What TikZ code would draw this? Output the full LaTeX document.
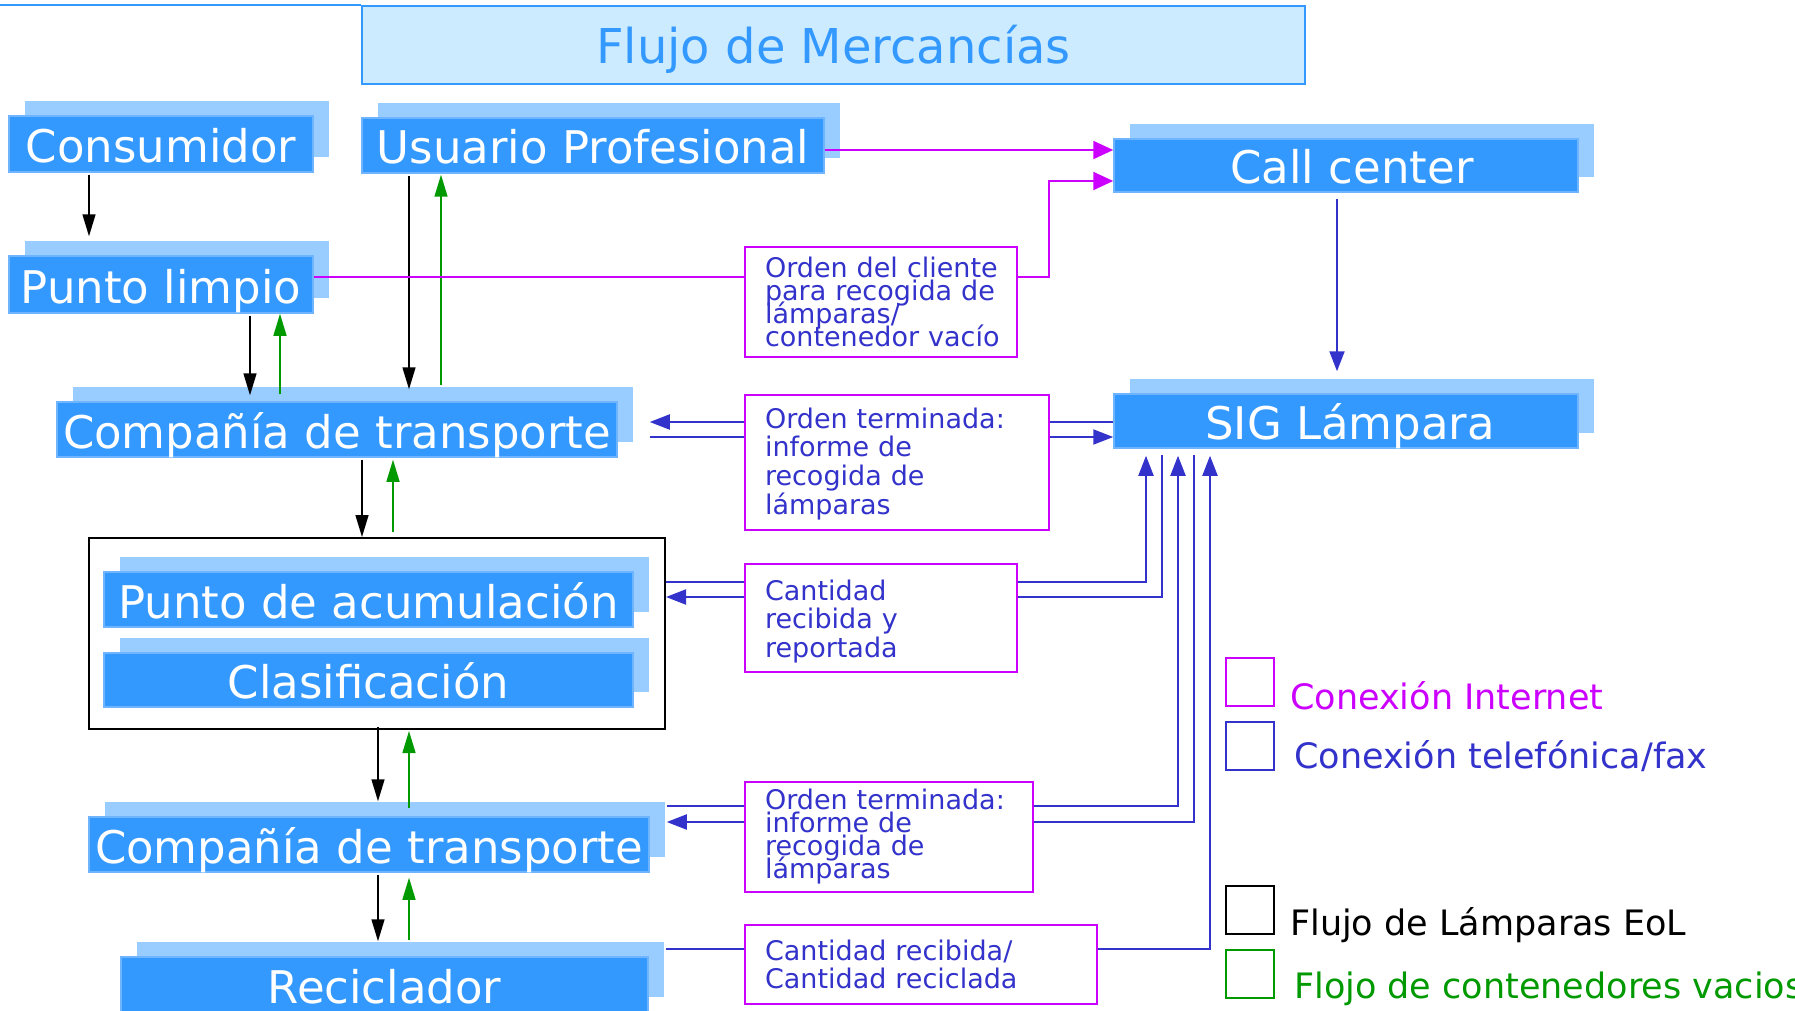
\documentclass[tikz,border=0pt]{standalone}
\usepackage{fontspec}
\setmainfont{DejaVu Sans}
\usetikzlibrary{arrows.meta,shadows}
\definecolor{mainblue}{RGB}{51,153,255}
\definecolor{shadowblue}{RGB}{153,204,255}
\definecolor{borderblue}{RGB}{110,180,255}
\definecolor{titlefill}{RGB}{204,235,255}
\definecolor{inetcol}{RGB}{204,0,255}
\definecolor{phonecol}{RGB}{51,51,204}
\definecolor{emptycol}{RGB}{0,153,0}
\begin{document}
\begin{tikzpicture}[x=1pt,y=-1pt,
  mainbox/.style={draw=borderblue, line width=1.5pt, fill=mainblue, text=white, inner sep=0pt,
    font=\fontsize{45}{54}\selectfont, text height=40pt, text depth=3pt,
    general shadow={fill=shadowblue, shadow xshift=16pt, shadow yshift=15pt}},
  infobox/.style={draw=inetcol, line width=2pt, fill=white, text=phonecol, inner xsep=20pt, inner ysep=0pt, align=left,
    execute at begin node={\lineskiplimit=-1000pt\relax\hfuzz=100pt\relax}},
  tight/.style={font=\fontsize{27}{23}\selectfont},
  loose/.style={font=\fontsize{27}{28.6}\selectfont},
  legsq/.style={draw, line width=2pt, minimum width=48pt, minimum height=48pt, inner sep=0pt},
  legtxt/.style={anchor=base west, inner sep=0pt, font=\fontsize{35}{42}\selectfont},
  eolarrow/.style={draw=black, line width=1.5pt, -{Triangle[length=22pt,width=13pt]}},
  emptyarrow/.style={draw=emptycol, line width=1.5pt, -{Triangle[length=22pt,width=13pt]}},
  inetline/.style={draw=inetcol, line width=2pt},
  inetarrow/.style={inetline, -{Triangle[length=20pt,width=18pt]}},
  phoneline/.style={draw=phonecol, line width=2pt},
  phonearrow/.style={phoneline, -{Triangle[length=20pt,width=15pt]}}
]
\useasboundingbox (0,0) rectangle (1795,1011);

% title
\node[draw=mainblue, line width=2pt, fill=titlefill, text=mainblue, minimum width=943pt, minimum height=78pt, inner sep=0pt,
  font=\fontsize{48}{56}\selectfont, text height=41pt, text depth=3pt] (title) at (833.5,45) {Flujo de Mercancías};
\draw[mainblue, line width=2pt] (title.north west) -- (0,0 |- title.north west);

% main boxes
\node[mainbox, minimum width=304pt, minimum height=56pt] (cons) at (161,144) {Consumidor};
\node[mainbox, minimum width=462pt, minimum height=55pt] (usu) at (593,145.5) {Usuario Profesional};
\node[mainbox, minimum width=304pt, minimum height=57pt] (plim) at (161,284.5) {Punto limpio};
\node[mainbox, minimum width=560pt, minimum height=55pt] (cdt1) at (337,429.5) {Compañía de transporte};
\node[mainbox, minimum width=464pt, minimum height=53pt] (call) at (1346,165.5) {\hspace*{12pt}Call center};
\node[mainbox, minimum width=464pt, minimum height=54pt] (sig) at (1346,421) {\hspace*{8pt}SIG Lámpara};
\node[draw=black, line width=2pt, minimum width=576pt, minimum height=191pt, inner sep=0pt] (frame) at (377,633.5) {};
\node[mainbox, minimum width=529pt, minimum height=55pt] (acum) at (368.5,599.5) {Punto de acumulación};
\node[mainbox, minimum width=529pt, minimum height=54pt] (clas) at (368.5,680) {Clasificación};
\node[mainbox, minimum width=560pt, minimum height=55pt] (cdt2) at (369,844.5) {Compañía de transporte};
\node[mainbox, minimum width=527pt, minimum height=55pt] (rec) at (384.5,984.5) {Reciclador};

% info boxes
\node[infobox, tight, text width=232pt, minimum height=110pt] (b1) at (881,302)
  {\mbox{Orden del cliente}\\\mbox{para recogida de}\\lámparas/\\\mbox{contenedor vacío}};
\node[infobox, loose, text width=264pt, minimum height=135pt] (b2) at (897,462.5)
  {\rule{0pt}{23pt}Orden terminada:\\informe de\\recogida de\\lámparas};
\node[infobox, loose, text width=232pt, minimum height=108pt] (b3) at (881,618)
  {\rule{0pt}{27.5pt}Cantidad\\recibida y\\reportada};
\node[infobox, tight, text width=248pt, minimum height=110pt] (b4) at (889,837)
  {Orden terminada:\\informe de\\recogida de\\lámparas};
\node[infobox, loose, text width=312pt, minimum height=79pt] (b5) at (921,964.5)
  {Cantidad recibida/\\Cantidad reciclada};

% black flow (EoL lamps)
\draw[eolarrow, shorten <=2pt, shorten >=19pt] (89,0 |- cons.south) -- (89,0 |- plim.north);
\draw[eolarrow, shorten <=2pt, shorten >=12pt] (409,0 |- usu.south) -- (409,0 |- cdt1.north);
\draw[eolarrow, shorten <=2pt, shorten >=6pt] (250,0 |- plim.south) -- (250,0 |- cdt1.north);
\draw[eolarrow, shorten <=2pt] (362,0 |- cdt1.south) -- (362,0 |- frame.north);
\draw[eolarrow, shorten <=-3pt, shorten >=15pt] (378,0 |- frame.south) -- (378,0 |- cdt2.north);
\draw[eolarrow, shorten <=2pt, shorten >=15pt] (378,0 |- cdt2.south) -- (378,0 |- rec.north);

% green flow (empty containers)
\draw[emptyarrow, shorten <=16pt, shorten >=1pt] (441,0 |- cdt1.north) -- (441,0 |- usu.south);
\draw[emptyarrow, shorten <=7pt, shorten >=0pt] (280,0 |- cdt1.north) -- (280,0 |- plim.south);
\draw[emptyarrow, shorten <=5pt, shorten >=2pt] (393,0 |- frame.north) -- (393,0 |- cdt1.south);
\draw[emptyarrow, shorten <=8pt, shorten >=1pt] (409,0 |- cdt2.north) -- (409,0 |- frame.south);
\draw[emptyarrow, shorten <=16pt, shorten >=5pt] (409,0 |- rec.north) -- (409,0 |- cdt2.south);

% internet connections
\draw[inetarrow] (usu.east |- 0,150) -- (call.west |- 0,150);
\draw[inetline] (plim.east |- 0,277) -- (b1.west |- 0,277);
\draw[inetarrow] (b1.east |- 0,277) -- (1049,277) |- (call.west |- 0,181);

% phone / fax connections
\draw[phonearrow, shorten <=6pt, shorten >=22pt] (1337,0 |- call.south) -- (1337,0 |- sig.north);
\draw[phoneline] (sig.west |- 0,422) -- (b2.east |- 0,422);
\draw[phonearrow] (b2.west |- 0,422) -- ([xshift=32pt]cdt1.east |- 0,422);
\draw[phoneline] ([xshift=32pt]cdt1.east |- 0,437) -- (b2.west |- 0,437);
\draw[phonearrow] (b2.east |- 0,437) -- (sig.west |- 0,437);

\draw[phoneline] (frame.east |- 0,582) -- (b3.west |- 0,582);
\draw[phonearrow, shorten >=7pt] (b3.east |- 0,582) -| (1146,0 |- sig.south);
\draw[phonearrow] (b3.west |- 0,597) -- (frame.east |- 0,597);
\draw[phoneline, shorten >=6pt] (b3.east |- 0,597) -| (1162,0 |- sig.south);

\draw[phoneline] ([xshift=17pt]cdt2.east |- 0,806) -- (b4.west |- 0,806);
\draw[phonearrow, shorten >=7pt] (b4.east |- 0,806) -| (1178,0 |- sig.south);
\draw[phonearrow] (b4.west |- 0,822) -- ([xshift=17pt]cdt2.east |- 0,822);
\draw[phoneline, shorten >=6pt] (b4.east |- 0,822) -| (1194,0 |- sig.south);

\draw[phoneline] ([xshift=17pt]rec.east |- 0,949) -- (b5.west |- 0,949);
\draw[phonearrow, shorten >=7pt] (b5.east |- 0,949) -| (1210,0 |- sig.south);

% legend
\node[legsq, draw=inetcol] (lg1) at (1250,682) {};
\node[legtxt, text=inetcol] (lt1) at (1290,709) {Conexión Internet};
\node[legsq, draw=phonecol] (lg2) at (1250,746) {};
\node[legtxt, text=phonecol] (lt2) at (1294,768) {Conexión telefónica/fax};
\node[legsq, draw=black] (lg3) at (1250,910) {};
\node[legtxt, text=black] (lt3) at (1290,935) {Flujo de Lámparas EoL};
\node[legsq, draw=emptycol] (lg4) at (1250,974) {};
\node[legtxt, text=emptycol] (lt4) at (1294,998) {Flojo de contenedores vacios};
\end{tikzpicture}
\end{document}
